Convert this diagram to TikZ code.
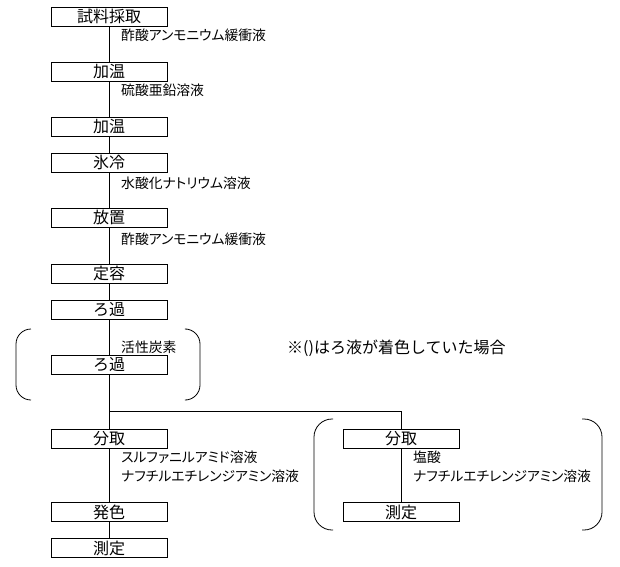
\documentclass[tikz,border=0pt]{standalone}
\usepackage{fontspec}
\setmainfont{Noto Sans CJK JP}
\newfontfamily\palfont[RawFeature=+palt]{Noto Sans CJK JP}
\tikzset{
  stepbox/.style={draw, line width=0.8pt, minimum width=116pt, minimum height=19pt,
    inner sep=0pt, font=\fontsize{16}{16}\selectfont},
  reagent/.style={anchor=west, inner sep=0pt, font=\palfont\fontsize{13.8}{14}\selectfont},
  flow/.style={line width=0.8pt}
}
\begin{document}
\begin{tikzpicture}[x=1pt,y=-1pt]
\useasboundingbox (0,0) rectangle (620,566);

% main line
\node[stepbox] (s1) at (109,16.5) {試料採取};
\node[stepbox] (s2) at (109,71.5) {加温};
\node[stepbox] (s3) at (109,126.5) {加温};
\node[stepbox] (s4) at (109,162.5) {氷冷};
\node[stepbox] (s5) at (109,217.5) {放置};
\node[stepbox] (s6) at (109,273.5) {定容};
\node[stepbox] (s7) at (109,310) {ろ過};
\node[stepbox] (s8) at (109,365) {ろ過};

\node[reagent] (r1) at (121,35) {酢酸アンモニウム緩衝液};
\node[reagent] (r2) at (121,90) {硫酸亜鉛溶液};
\node[reagent] (r4) at (121,183) {水酸化ナトリウム溶液};
\node[reagent] (r5) at (121,239) {酢酸アンモニウム緩衝液};
\node[reagent] (r7) at (121,347) {活性炭素};

\node[anchor=west, inner sep=0pt, font=\fontsize{16}{16}\selectfont] (note) at (287,348) {※()はろ液が着色していた場合};

% left branch
\node[stepbox] (a1) at (109,438.5) {分取};
\node[stepbox] (a2) at (109,512) {発色};
\node[stepbox] (a3) at (109,548) {測定};
\node[reagent] (ra1) at (121,457) {スルファニルアミド溶液};
\node[reagent] (ra2) at (121,476) {ナフチルエチレンジアミン溶液};

% right branch
\node[stepbox] (b1) at (401,438.5) {分取};
\node[stepbox] (b2) at (401,512) {測定};
\node[reagent] (rb1) at (413,457) {塩酸};
\node[reagent] (rb2) at (413,476) {ナフチルエチレンジアミン溶液};

\coordinate (j) at (109,411);

\foreach \a/\b in {s1/s2, s2/s3, s3/s4, s4/s5, s5/s6, s6/s7, s7/s8, s8/a1, a1/a2, a2/a3, b1/b2}
  \draw[flow] (\a) -- (\b);
\draw[flow] (j) -| (b1);

% brackets
\draw[flow, rounded corners=15pt] (31,329) -- (16,329) -- (16,400) -- (31,400);
\draw[flow, rounded corners=15pt] (187,329) -- (200,329) -- (200,400) -- (187,400);
\draw[flow, rounded corners=18pt] (333,419) -- (314,419) -- (314,530) -- (333,530);
\draw[flow, rounded corners=18pt] (582,419) -- (602,419) -- (602,530) -- (582,530);
\end{tikzpicture}
\end{document}
